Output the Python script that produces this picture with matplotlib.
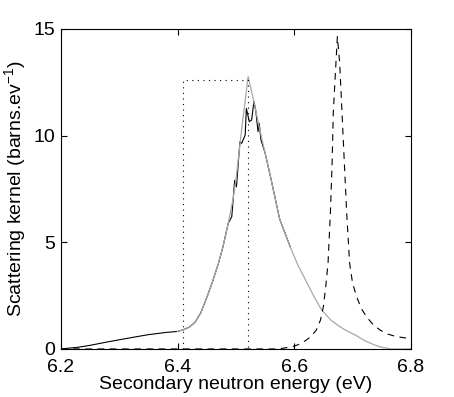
import matplotlib
matplotlib.use("Agg")
import matplotlib.pyplot as plt
import numpy as np

plt.rcParams['font.family'] = ['Liberation Sans', 'DejaVu Sans']
plt.rcParams['mathtext.fontset'] = 'custom'
plt.rcParams['mathtext.rm'] = 'Liberation Sans'

# smooth (grey) kernel
grey_x = [6.40, 6.41, 6.42, 6.43, 6.44, 6.45, 6.46, 6.47, 6.478, 6.487, 6.495,
          6.50, 6.51, 6.521, 6.53, 6.54, 6.55, 6.56, 6.575, 6.593, 6.606,
          6.621, 6.635, 6.647, 6.663, 6.678, 6.69, 6.707, 6.72, 6.735, 6.747,
          6.765, 6.80]
grey_y = [0.82, 0.9, 1.02, 1.25, 1.7, 2.4, 3.15, 4.0, 4.8, 5.9, 7.0,
          7.9, 10.3, 12.77, 11.7, 10.4, 9.2, 8.0, 6.1, 4.8, 3.95,
          3.15, 2.4, 1.83, 1.35, 1.05, 0.85, 0.62, 0.4, 0.22, 0.1,
          0.0, 0.0]

# jagged (black) kernel
dark_x = [6.20, 6.23, 6.25, 6.28, 6.30, 6.335, 6.35, 6.382, 6.40, 6.41, 6.42,
          6.43, 6.44, 6.45, 6.46, 6.47, 6.478, 6.487, 6.493, 6.498, 6.501,
          6.507, 6.51, 6.516, 6.518, 6.523, 6.527, 6.531, 6.534, 6.538, 6.54,
          6.543, 6.55, 6.56, 6.575, 6.593]
dark_y = [0.0, 0.08, 0.17, 0.33, 0.43, 0.6, 0.67, 0.78, 0.82, 0.9, 1.02,
          1.25, 1.7, 2.4, 3.15, 4.0, 4.8, 5.9, 6.2, 7.9, 7.6,
          9.72, 9.64, 10.03, 11.28, 10.66, 10.73, 11.6, 11.2, 10.19, 10.58,
          9.8, 9.2, 8.0, 6.1, 4.8]

# dashed kernel
dash_x = [6.20, 6.57, 6.585, 6.601, 6.612, 6.621, 6.63, 6.638, 6.645, 6.650, 6.654,
          6.658, 6.662, 6.665, 6.667, 6.670, 6.674, 6.678, 6.682, 6.686, 6.690,
          6.695, 6.70, 6.707, 6.715, 6.724, 6.735, 6.747, 6.76, 6.775, 6.795, 6.80]
dash_y = [0.0, 0.0, 0.05, 0.14, 0.26, 0.42, 0.62, 0.89, 1.35, 1.98, 2.9,
          4.02, 6.36, 8.7, 11.05, 12.61, 14.64, 13.4, 11.05, 8.7, 6.36,
          4.02, 3.1, 2.45, 1.9, 1.51, 1.15, 0.89, 0.7, 0.58, 0.5, 0.49]

# dotted box
box_x = [6.41, 6.41, 6.52, 6.52]
box_y = [0.0, 12.6, 12.6, 0.0]

fig = plt.figure(figsize=(4.54, 3.97), dpi=100)
ax = fig.add_axes([0.134, 0.121, 0.771, 0.806])

ax.plot(dark_x, dark_y, color='black', linewidth=0.8)
ax.plot(grey_x, grey_y, color='#a8a8a8', linewidth=0.9)
ax.plot(dash_x, dash_y, color='black', linewidth=0.8, linestyle=(0, (6, 5)))
ax.plot(box_x, box_y, color='black', linewidth=0.8, linestyle=(0, (1, 4)))

ax.set_xlim(6.2, 6.8)
ax.set_ylim(0, 15)
ax.set_xticks([6.2, 6.4, 6.6, 6.8])
ax.set_yticks([0, 5, 10, 15])
ax.tick_params(direction='in', length=4, top=True, right=True, labelsize=14)
ax.tick_params(axis='x', pad=7)
ax.tick_params(axis='y', pad=4)
for s in ax.spines.values():
    s.set_linewidth(0.8)

ax.set_xlabel('Secondary neutron energy (eV)', fontsize=14, labelpad=0)
ax.set_ylabel('Scattering kernel (barns.ev$^{-1}$)', fontsize=14, labelpad=3)

fig.savefig('out.png', dpi=100)
